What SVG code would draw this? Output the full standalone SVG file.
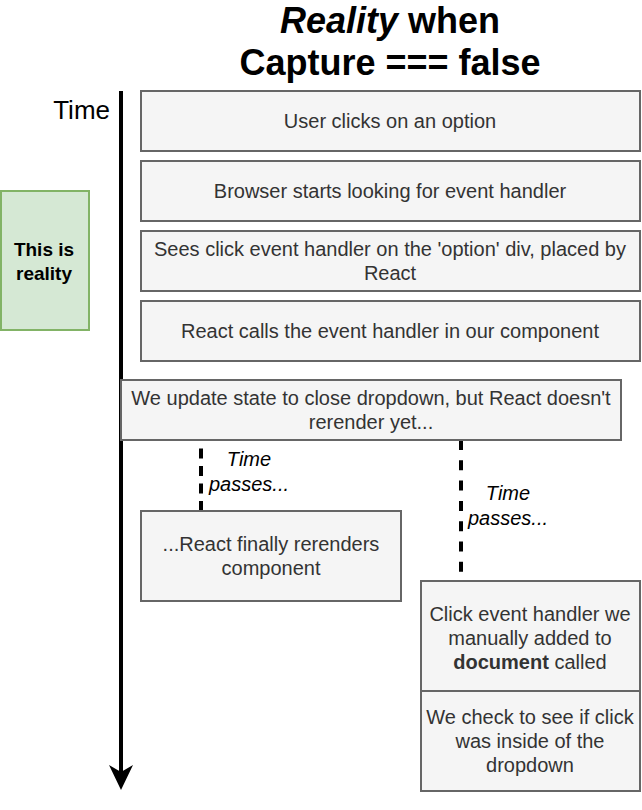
<svg xmlns="http://www.w3.org/2000/svg" width="642" height="810" viewBox="0 0 642 810">
<style>
.box{fill:#f5f5f5;stroke:#666666;stroke-width:2}
.t{font-family:"Liberation Sans",Arial,sans-serif;font-size:20px;fill:#333333;text-anchor:middle}
.lbl{font-family:"Liberation Sans",Arial,sans-serif;font-size:20px;font-style:italic;fill:#000000;text-anchor:middle}
.dash{stroke:#000000;stroke-width:4;fill:none}
</style>
<rect width="642" height="810" fill="#ffffff"/>
<g id="title">
<text x="390" y="33" font-family="'Liberation Sans',Arial,sans-serif" font-size="36" font-weight="bold" text-anchor="middle"><tspan font-style="italic">Reality</tspan> when</text>
<text x="390" y="75" font-family="'Liberation Sans',Arial,sans-serif" font-size="36" font-weight="bold" text-anchor="middle">Capture === false</text>
</g>
<g id="time-label">
<text x="110" y="119" font-family="'Liberation Sans',Arial,sans-serif" font-size="26" text-anchor="end">Time</text>
</g>
<g id="reality-note">
<rect x="1" y="191" width="88" height="139" fill="#d5e8d4" stroke="#82b366" stroke-width="2"/>
<text x="44" y="256" font-family="'Liberation Sans',Arial,sans-serif" font-size="19" font-weight="bold" text-anchor="middle">This is</text>
<text x="44" y="280" font-family="'Liberation Sans',Arial,sans-serif" font-size="19" font-weight="bold" text-anchor="middle">reality</text>
</g>
<g id="connectors">
<line x1="121" y1="91" x2="121" y2="774" stroke="#000000" stroke-width="4"/>
<polygon points="121,790 109,765 121,772 133,765" fill="#000000"/>
<line class="dash" x1="201" y1="431" x2="201" y2="511" stroke-dasharray="10 7.5"/>
<line class="dash" x1="461" y1="440" x2="461" y2="572" stroke-dasharray="10 10.3"/>
</g>
<g id="step1">
<rect class="box" x="141" y="91" width="499" height="60"/>
<text class="t" x="390" y="128">User clicks on an option</text>
</g>
<g id="step2">
<rect class="box" x="141" y="161" width="499" height="60"/>
<text class="t" x="390" y="198">Browser starts looking for event handler</text>
</g>
<g id="step3">
<rect class="box" x="141" y="231" width="499" height="60"/>
<text class="t" x="390" y="256">Sees click event handler on the 'option' div, placed by</text>
<text class="t" x="390" y="280">React</text>
</g>
<g id="step4">
<rect class="box" x="141" y="301" width="499" height="60"/>
<text class="t" x="390" y="338">React calls the event handler in our component</text>
</g>
<g id="step5">
<rect class="box" x="121" y="380" width="500" height="60"/>
<text class="t" x="371" y="405">We update state to close dropdown, but React doesn't</text>
<text class="t" x="371" y="429">rerender yet...</text>
</g>
<g id="time-passes-1">
<text class="lbl" x="249" y="466">Time</text>
<text class="lbl" x="249" y="491">passes...</text>
</g>
<g id="time-passes-2">
<text class="lbl" x="508" y="500">Time</text>
<text class="lbl" x="508" y="525">passes...</text>
</g>
<g id="step6">
<rect class="box" x="141" y="511" width="260" height="90"/>
<text class="t" x="271" y="551">...React finally rerenders</text>
<text class="t" x="271" y="575">component</text>
</g>
<g id="step7">
<rect class="box" x="421" y="581" width="219" height="110"/>
<text class="t" x="530" y="621">Click event handler we</text>
<text class="t" x="530" y="645">manually added to</text>
<text class="t" x="530" y="669"><tspan font-weight="bold">document</tspan> called</text>
</g>
<g id="step8">
<rect class="box" x="421" y="691" width="219" height="100"/>
<text class="t" x="530" y="724">We check to see if click</text>
<text class="t" x="530" y="748">was inside of the</text>
<text class="t" x="530" y="772">dropdown</text>
</g>
</svg>
